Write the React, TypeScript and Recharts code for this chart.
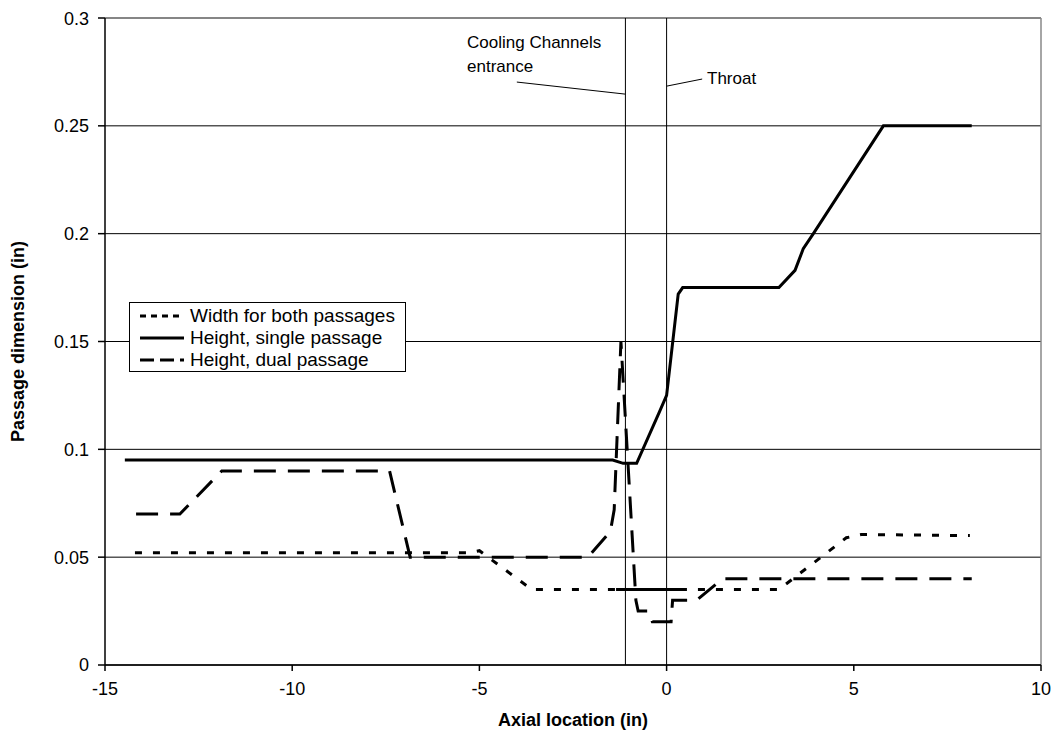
import React from "react";
import {
  LineChart, Line, XAxis, YAxis, CartesianGrid, ReferenceLine, ReferenceDot, Label,
} from "recharts";

type Pt = { x: number; y: number };

const xTicks = [-15, -10, -5, 0, 5, 10];
const yTicks = [0, 0.05, 0.1, 0.15, 0.2, 0.25, 0.3];

// Width for both passages
const widthBoth: Pt[] = [
  { x: -14.2, y: 0.052 }, { x: -5.3, y: 0.052 }, { x: -5.0, y: 0.053 },
  { x: -3.6, y: 0.035 }, { x: 3.0, y: 0.035 }, { x: 4.8, y: 0.059 },
  { x: 5.2, y: 0.0605 }, { x: 8.1, y: 0.06 },
];
// dense stretch of the width series (renders solid in the original)
const widthDense: Pt[] = [{ x: -1.35, y: 0.035 }, { x: 0.4, y: 0.035 }];

// Height, single passage
const heightSingle: Pt[] = [
  { x: -14.47, y: 0.095 }, { x: -1.44, y: 0.095 }, { x: -1.16, y: 0.0935 },
  { x: -0.8, y: 0.0935 }, { x: -0.2, y: 0.117 }, { x: 0, y: 0.125 },
  { x: 0.31, y: 0.172 }, { x: 0.43, y: 0.175 }, { x: 3.0, y: 0.175 },
  { x: 3.43, y: 0.183 }, { x: 3.65, y: 0.193 }, { x: 3.92, y: 0.2 },
  { x: 5.79, y: 0.25 }, { x: 8.15, y: 0.25 },
];

// Height, dual passage
const heightDual: Pt[] = [
  { x: -14.17, y: 0.07 }, { x: -13.0, y: 0.07 }, { x: -11.88, y: 0.09 },
  { x: -7.4, y: 0.09 }, { x: -6.85, y: 0.05 }, { x: -2.1, y: 0.05 },
  { x: -1.5, y: 0.062 }, { x: -1.4, y: 0.072 }, { x: -1.22, y: 0.15 },
  { x: -0.82, y: 0.03 }, { x: -0.76, y: 0.025 }, { x: -0.47, y: 0.025 },
  { x: -0.38, y: 0.02 }, { x: 0.12, y: 0.02 }, { x: 0.16, y: 0.03 },
  { x: 0.8, y: 0.03 }, { x: 1.5, y: 0.04 }, { x: 8.15, y: 0.04 },
];

const coolingX = -1.1;
const throatX = 0;

const FONT = "'Liberation Sans', Arial, sans-serif";
const DOT = "7 11";
const DASH = "22 12";

const legendItems = [
  { name: "Width for both passages", dash: "6 5" },
  { name: "Height, single passage", dash: undefined },
  { name: "Height, dual passage", dash: "14 6" },
];

const textShape = (lines: string[]) => (p: any) => (
  <text x={p.cx} y={p.cy} fontFamily={FONT} fontSize={17} fill="#000">
    {lines.map((l, i) => (
      <tspan key={i} x={p.cx} dy={i === 0 ? 0 : 24}>{l}</tspan>
    ))}
  </text>
);

export default function App() {
  return (
    // fixed frame the size of the window, so no scrollbars appear
    <div style={{ position: "fixed", left: 0, top: 0, width: 1054, height: 734, overflow: "hidden", background: "#fff" }}>
      <div style={{ position: "absolute", left: 8, top: 8, width: 1046, height: 726, fontFamily: FONT }}>
        <LineChart width={1046} height={726} margin={{ top: 10, right: 13, left: 0, bottom: 0 }}>
          <CartesianGrid vertical={false} stroke="#000" strokeWidth={1} />
          <XAxis
            type="number" dataKey="x" domain={[-15, 10]} ticks={xTicks} allowDataOverflow
            height={69} tickSize={6} tickMargin={11} stroke="#000" strokeWidth={1.5}
            tick={{ fontSize: 18, fill: "#000", fontFamily: FONT }}
          >
            <Label value="Axial location (in)" position="insideBottom" offset={8}
              style={{ fontSize: 18, fontWeight: "bold", fill: "#000", fontFamily: FONT }} />
          </XAxis>
          <YAxis
            type="number" domain={[0, 0.3]} ticks={yTicks} width={97}
            tickSize={7} tickMargin={9} stroke="#000" strokeWidth={1.5}
            tick={{ fontSize: 18, fill: "#000", fontFamily: FONT }}
          >
            <Label value="Passage dimension (in)" angle={-90} position="insideLeft" offset={10}
              style={{ textAnchor: "middle", fontSize: 18, fontWeight: "bold", fill: "#000", fontFamily: FONT }} />
          </YAxis>
          <ReferenceLine x={10} stroke="#888" strokeWidth={1.5} />
          <ReferenceLine y={0.3} stroke="#888" strokeWidth={1.5} />
          <ReferenceLine x={coolingX} stroke="#000" strokeWidth={1} />
          <ReferenceLine x={throatX} stroke="#000" strokeWidth={1} />
          <ReferenceLine segment={[{ x: -4.0, y: 0.2703 }, { x: coolingX, y: 0.2647 }]} stroke="#000" strokeWidth={1} />
          <ReferenceLine segment={[{ x: throatX, y: 0.2684 }, { x: 0.95, y: 0.2717 }]} stroke="#000" strokeWidth={1} />
          <ReferenceDot x={-5.33} y={0.2863} r={0} shape={textShape(["Cooling Channels", "entrance"])} />
          <ReferenceDot x={1.08} y={0.2694} r={0} shape={textShape(["Throat"])} />
          <Line data={widthBoth} dataKey="y" type="linear" stroke="#000" strokeWidth={3}
            strokeDasharray={DOT} dot={false} isAnimationActive={false} />
          <Line data={widthDense} dataKey="y" type="linear" stroke="#000" strokeWidth={3}
            dot={false} isAnimationActive={false} />
          <Line data={heightSingle} dataKey="y" type="linear" stroke="#000" strokeWidth={3}
            dot={false} isAnimationActive={false} />
          <Line data={heightDual} dataKey="y" type="linear" stroke="#000" strokeWidth={3}
            strokeDasharray={DASH} dot={false} isAnimationActive={false} />
        </LineChart>
        <div style={{
          position: "absolute", left: 121, top: 294, width: 277, height: 70,
          border: "1px solid #000", background: "#fff", boxSizing: "border-box", padding: "2px 0 0 8px",
        }}>
          {legendItems.map((it) => (
            <div key={it.name} style={{ display: "flex", alignItems: "center", height: 22 }}>
              <svg width={48} height={10}>
                <line x1={2} y1={5} x2={46} y2={5} stroke="#000" strokeWidth={3} strokeDasharray={it.dash} />
              </svg>
              <span style={{ fontSize: 19, marginLeft: 4, whiteSpace: "nowrap" }}>{it.name}</span>
            </div>
          ))}
        </div>
      </div>
    </div>
  );
}
